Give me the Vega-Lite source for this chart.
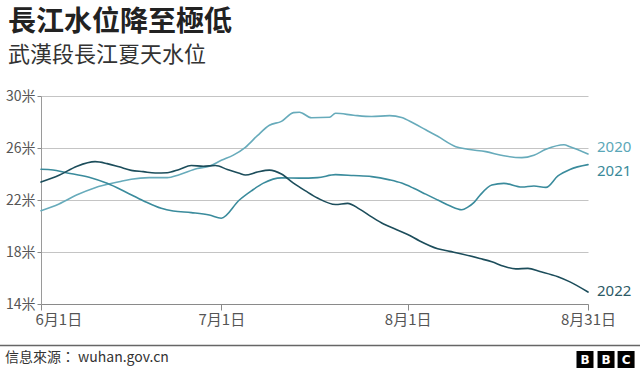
{
  "$schema": "https://vega.github.io/schema/vega-lite/v6.json",
  "width": 547,
  "height": 208,
  "autosize": {"type": "none"},
  "padding": {"left": 41, "top": 96, "right": 52, "bottom": 69},
  "background": "white",
  "config": {
    "view": {"stroke": null},
    "font": "Noto Sans CJK TC",
    "axis": {"labelFont": "Noto Sans CJK TC", "titleFont": "Noto Sans CJK TC"}
  },
  "title": {
    "text": "長江水位降至極低",
    "subtitle": "武漢段長江夏天水位",
    "anchor": "start",
    "frame": "group",
    "dx": -33,
    "offset": 23,
    "fontSize": 28,
    "fontWeight": "bold",
    "color": "#222222",
    "subtitleFontSize": 22,
    "subtitleColor": "#333333",
    "subtitlePadding": 8,
    "font": "Noto Sans CJK TC",
    "subtitleFont": "Noto Sans CJK TC"
  },
  "data": {
    "values": [
      {"year": "2020", "date": "2022-06-01T00:00", "level": 21.18},
      {"year": "2020", "date": "2022-06-04T00:00", "level": 21.7},
      {"year": "2020", "date": "2022-06-07T00:00", "level": 22.4},
      {"year": "2020", "date": "2022-06-10T00:00", "level": 22.95},
      {"year": "2020", "date": "2022-06-14T00:00", "level": 23.4},
      {"year": "2020", "date": "2022-06-16T00:00", "level": 23.6},
      {"year": "2020", "date": "2022-06-19T00:00", "level": 23.72},
      {"year": "2020", "date": "2022-06-22T00:00", "level": 23.72},
      {"year": "2020", "date": "2022-06-24T00:00", "level": 23.95},
      {"year": "2020", "date": "2022-06-27T00:00", "level": 24.42},
      {"year": "2020", "date": "2022-06-29T00:00", "level": 24.6},
      {"year": "2020", "date": "2022-07-01T00:00", "level": 25.05},
      {"year": "2020", "date": "2022-07-03T00:00", "level": 25.45},
      {"year": "2020", "date": "2022-07-05T00:00", "level": 26.05},
      {"year": "2020", "date": "2022-07-07T00:00", "level": 26.95},
      {"year": "2020", "date": "2022-07-09T00:00", "level": 27.75},
      {"year": "2020", "date": "2022-07-11T00:00", "level": 28.05},
      {"year": "2020", "date": "2022-07-13T00:00", "level": 28.72},
      {"year": "2020", "date": "2022-07-14T00:00", "level": 28.75},
      {"year": "2020", "date": "2022-07-16T00:00", "level": 28.33},
      {"year": "2020", "date": "2022-07-19T00:00", "level": 28.36},
      {"year": "2020", "date": "2022-07-20T00:00", "level": 28.67},
      {"year": "2020", "date": "2022-07-23T00:00", "level": 28.52},
      {"year": "2020", "date": "2022-07-26T00:00", "level": 28.42},
      {"year": "2020", "date": "2022-07-29T00:00", "level": 28.49},
      {"year": "2020", "date": "2022-07-31T00:00", "level": 28.35},
      {"year": "2020", "date": "2022-08-02T00:00", "level": 27.9},
      {"year": "2020", "date": "2022-08-04T00:00", "level": 27.4},
      {"year": "2020", "date": "2022-08-06T00:00", "level": 26.9},
      {"year": "2020", "date": "2022-08-09T00:00", "level": 26.1},
      {"year": "2020", "date": "2022-08-11T00:00", "level": 25.9},
      {"year": "2020", "date": "2022-08-14T00:00", "level": 25.72},
      {"year": "2020", "date": "2022-08-17T00:00", "level": 25.4},
      {"year": "2020", "date": "2022-08-20T00:00", "level": 25.26},
      {"year": "2020", "date": "2022-08-22T00:00", "level": 25.45},
      {"year": "2020", "date": "2022-08-24T00:00", "level": 25.9},
      {"year": "2020", "date": "2022-08-27T00:00", "level": 26.25},
      {"year": "2020", "date": "2022-08-28T00:00", "level": 26.1},
      {"year": "2020", "date": "2022-08-31T00:00", "level": 25.54},
      {"year": "2021", "date": "2022-06-01T00:00", "level": 24.36},
      {"year": "2021", "date": "2022-06-03T00:00", "level": 24.31},
      {"year": "2021", "date": "2022-06-05T00:00", "level": 24.12},
      {"year": "2021", "date": "2022-06-09T00:00", "level": 23.75},
      {"year": "2021", "date": "2022-06-12T00:00", "level": 23.28},
      {"year": "2021", "date": "2022-06-15T00:00", "level": 22.64},
      {"year": "2021", "date": "2022-06-18T00:00", "level": 21.95},
      {"year": "2021", "date": "2022-06-21T00:00", "level": 21.36},
      {"year": "2021", "date": "2022-06-23T00:00", "level": 21.15},
      {"year": "2021", "date": "2022-06-26T00:00", "level": 21.03},
      {"year": "2021", "date": "2022-06-29T00:00", "level": 20.85},
      {"year": "2021", "date": "2022-07-01T00:00", "level": 20.6},
      {"year": "2021", "date": "2022-07-04T00:00", "level": 22.0},
      {"year": "2021", "date": "2022-07-06T00:00", "level": 22.7},
      {"year": "2021", "date": "2022-07-08T00:00", "level": 23.3},
      {"year": "2021", "date": "2022-07-11T00:00", "level": 23.7},
      {"year": "2021", "date": "2022-07-14T00:00", "level": 23.68},
      {"year": "2021", "date": "2022-07-17T00:00", "level": 23.72},
      {"year": "2021", "date": "2022-07-20T00:00", "level": 23.95},
      {"year": "2021", "date": "2022-07-23T00:00", "level": 23.88},
      {"year": "2021", "date": "2022-07-26T00:00", "level": 23.8},
      {"year": "2021", "date": "2022-07-29T00:00", "level": 23.55},
      {"year": "2021", "date": "2022-07-31T00:00", "level": 23.3},
      {"year": "2021", "date": "2022-08-02T00:00", "level": 22.9},
      {"year": "2021", "date": "2022-08-04T00:00", "level": 22.45},
      {"year": "2021", "date": "2022-08-06T00:00", "level": 22.0},
      {"year": "2021", "date": "2022-08-08T00:00", "level": 21.55},
      {"year": "2021", "date": "2022-08-10T00:00", "level": 21.25},
      {"year": "2021", "date": "2022-08-11T00:00", "level": 21.45},
      {"year": "2021", "date": "2022-08-12T00:00", "level": 21.8},
      {"year": "2021", "date": "2022-08-13T00:00", "level": 22.35},
      {"year": "2021", "date": "2022-08-15T00:00", "level": 23.15},
      {"year": "2021", "date": "2022-08-17T00:00", "level": 23.28},
      {"year": "2021", "date": "2022-08-20T00:00", "level": 23.0},
      {"year": "2021", "date": "2022-08-22T00:00", "level": 23.08},
      {"year": "2021", "date": "2022-08-24T00:00", "level": 22.97},
      {"year": "2021", "date": "2022-08-26T00:00", "level": 23.85},
      {"year": "2021", "date": "2022-08-28T00:00", "level": 24.35},
      {"year": "2021", "date": "2022-08-31T00:00", "level": 24.72},
      {"year": "2022", "date": "2022-06-01T00:00", "level": 23.38},
      {"year": "2022", "date": "2022-06-04T00:00", "level": 23.9},
      {"year": "2022", "date": "2022-06-07T00:00", "level": 24.6},
      {"year": "2022", "date": "2022-06-10T00:00", "level": 24.95},
      {"year": "2022", "date": "2022-06-12T00:00", "level": 24.8},
      {"year": "2022", "date": "2022-06-14T00:00", "level": 24.55},
      {"year": "2022", "date": "2022-06-16T00:00", "level": 24.28},
      {"year": "2022", "date": "2022-06-18T00:00", "level": 24.18},
      {"year": "2022", "date": "2022-06-20T00:00", "level": 24.08},
      {"year": "2022", "date": "2022-06-22T00:00", "level": 24.1},
      {"year": "2022", "date": "2022-06-24T00:00", "level": 24.35},
      {"year": "2022", "date": "2022-06-26T00:00", "level": 24.65},
      {"year": "2022", "date": "2022-06-28T00:00", "level": 24.6},
      {"year": "2022", "date": "2022-06-30T00:00", "level": 24.65},
      {"year": "2022", "date": "2022-07-02T00:00", "level": 24.35},
      {"year": "2022", "date": "2022-07-04T00:00", "level": 24.05},
      {"year": "2022", "date": "2022-07-05T00:00", "level": 23.92},
      {"year": "2022", "date": "2022-07-07T00:00", "level": 24.15},
      {"year": "2022", "date": "2022-07-09T00:00", "level": 24.3},
      {"year": "2022", "date": "2022-07-11T00:00", "level": 24.0},
      {"year": "2022", "date": "2022-07-13T00:00", "level": 23.3},
      {"year": "2022", "date": "2022-07-15T00:00", "level": 22.7},
      {"year": "2022", "date": "2022-07-17T00:00", "level": 22.15},
      {"year": "2022", "date": "2022-07-20T00:00", "level": 21.65},
      {"year": "2022", "date": "2022-07-22T00:00", "level": 21.74},
      {"year": "2022", "date": "2022-07-24T00:00", "level": 21.3},
      {"year": "2022", "date": "2022-07-26T00:00", "level": 20.7},
      {"year": "2022", "date": "2022-07-28T00:00", "level": 20.15},
      {"year": "2022", "date": "2022-07-30T00:00", "level": 19.75},
      {"year": "2022", "date": "2022-08-01T00:00", "level": 19.35},
      {"year": "2022", "date": "2022-08-03T00:00", "level": 18.85},
      {"year": "2022", "date": "2022-08-06T00:00", "level": 18.25},
      {"year": "2022", "date": "2022-08-08T00:00", "level": 18.05},
      {"year": "2022", "date": "2022-08-10T00:00", "level": 17.85},
      {"year": "2022", "date": "2022-08-13T00:00", "level": 17.5},
      {"year": "2022", "date": "2022-08-15T00:00", "level": 17.25},
      {"year": "2022", "date": "2022-08-17T00:00", "level": 16.9},
      {"year": "2022", "date": "2022-08-19T00:00", "level": 16.7},
      {"year": "2022", "date": "2022-08-21T00:00", "level": 16.74},
      {"year": "2022", "date": "2022-08-23T00:00", "level": 16.5},
      {"year": "2022", "date": "2022-08-26T00:00", "level": 16.1},
      {"year": "2022", "date": "2022-08-28T00:00", "level": 15.7},
      {"year": "2022", "date": "2022-08-31T00:00", "level": 14.92}
    ]
  },
  "layer": [
    {
      "mark": {"type": "line", "interpolate": "monotone", "strokeCap": "round", "strokeJoin": "round"},
      "encoding": {
        "x": {
          "field": "date",
          "type": "temporal",
          "scale": {"domain": [{"year": 2022, "month": 6, "date": 1}, {"year": 2022, "month": 8, "date": 31}], "nice": false},
          "axis": {
            "title": null,
            "values": [
              {"year": 2022, "month": 6, "date": 1},
              {"year": 2022, "month": 7, "date": 1},
              {"year": 2022, "month": 8, "date": 1},
              {"year": 2022, "month": 8, "date": 31}
            ],
            "labelExpr": "(month(datum.value)+1)+'月'+date(datum.value)+'日'",
            "labelAlign": {"condition": {"test": "datum.index === 0", "value": "left"}, "value": "center"},
            "labelOffset": {"condition": {"test": "datum.index === 0", "value": -6}, "value": 0},
            "grid": false,
            "domainColor": "#8a8a8a",
            "domainWidth": 1.2,
            "tickColor": "#8a8a8a",
            "tickSize": 6,
            "labelPadding": 2,
            "labelFontSize": 15,
            "labelColor": "#555555"
          }
        },
        "y": {
          "field": "level",
          "type": "quantitative",
          "scale": {"domain": [14, 30], "nice": false, "zero": false},
          "axis": {
            "title": null,
            "values": [14, 16, 18, 20, 22, 24, 26, 28, 30],
            "labelExpr": "datum.value % 4 == 2 ? datum.value + '米' : ''",
            "grid": true,
            "gridColor": "#c4c4c4",
            "gridWidth": 1,
            "domainColor": "#9a9a9a",
            "tickColor": "#8a8a8a",
            "tickOpacity": {"condition": {"test": "datum.value % 4 != 2", "value": 0}, "value": 1},
            "tickSize": 4,
            "labelPadding": 2,
            "labelFontSize": 14,
            "labelColor": "#555555"
          }
        },
        "color": {
          "field": "year",
          "type": "nominal",
          "scale": {"domain": ["2020", "2021", "2022"], "range": ["#67abbb", "#3a8b9c", "#1c4d5b"]},
          "legend": null
        },
        "strokeWidth": {
          "field": "year",
          "type": "nominal",
          "scale": {"domain": ["2020", "2021", "2022"], "range": [1.6, 1.6, 2.6]},
          "legend": null
        }
      }
    },
    {
      "transform": [{"filter": "datum.year == '2020' && month(datum.date) == 7 && date(datum.date) == 31"}],
      "mark": {"type": "text", "align": "left", "baseline": "middle", "dx": 9, "dy": -7, "fontSize": 15, "font": "Noto Sans"},
      "encoding": {
        "x": {"field": "date", "type": "temporal"},
        "y": {"field": "level", "type": "quantitative"},
        "text": {"field": "year"},
        "color": {"value": "#5aa7b8"}
      }
    },
    {
      "transform": [{"filter": "datum.year == '2021' && month(datum.date) == 7 && date(datum.date) == 31"}],
      "mark": {"type": "text", "align": "left", "baseline": "middle", "dx": 9, "dy": 6, "fontSize": 15, "font": "Noto Sans"},
      "encoding": {
        "x": {"field": "date", "type": "temporal"},
        "y": {"field": "level", "type": "quantitative"},
        "text": {"field": "year"},
        "color": {"value": "#3a8a9a"}
      }
    },
    {
      "transform": [{"filter": "datum.year == '2022' && month(datum.date) == 7 && date(datum.date) == 31"}],
      "mark": {"type": "text", "align": "left", "baseline": "middle", "dx": 9, "dy": -1, "fontSize": 15, "font": "Noto Sans"},
      "encoding": {
        "x": {"field": "date", "type": "temporal"},
        "y": {"field": "level", "type": "quantitative"},
        "text": {"field": "year"},
        "color": {"value": "#2c5a66"}
      }
    },
    {
      "data": {"values": [{"note": "footer"}]},
      "mark": {"type": "rule", "color": "#666666", "strokeWidth": 1.5, "clip": false},
      "encoding": {
        "x": {"datum": {"year": 2022, "month": 5, "date": 25}, "type": "temporal"},
        "x2": {"datum": {"year": 2022, "month": 9, "date": 9}},
        "y": {"datum": 10.81, "type": "quantitative"}
      }
    },
    {
      "data": {"values": [{"source": "信息來源： wuhan.gov.cn"}]},
      "mark": {"type": "text", "align": "left", "baseline": "middle", "fontSize": 14, "color": "#333333", "font": "Noto Sans CJK TC"},
      "encoding": {
        "x": {"datum": {"year": 2022, "month": 5, "date": 26}, "type": "temporal"},
        "y": {"datum": 9.85, "type": "quantitative"},
        "text": {"field": "source"}
      }
    },
    {
      "data": {"values": [{"letter": "B"}]},
      "mark": {"type": "square", "size": 289, "filled": true, "color": "#000000", "opacity": 1},
      "encoding": {
        "x": {"datum": {"year": 2022, "month": 8, "date": 30, "hours": 12}, "type": "temporal"},
        "y": {"datum": 9.73, "type": "quantitative"}
      }
    },
    {
      "data": {"values": [{"letter": "B"}]},
      "mark": {"type": "square", "size": 289, "filled": true, "color": "#000000", "opacity": 1},
      "encoding": {
        "x": {"datum": {"year": 2022, "month": 9, "date": 3}, "type": "temporal"},
        "y": {"datum": 9.73, "type": "quantitative"}
      }
    },
    {
      "data": {"values": [{"letter": "C"}]},
      "mark": {"type": "square", "size": 289, "filled": true, "color": "#000000", "opacity": 1},
      "encoding": {
        "x": {"datum": {"year": 2022, "month": 9, "date": 6, "hours": 8}, "type": "temporal"},
        "y": {"datum": 9.73, "type": "quantitative"}
      }
    },
    {
      "data": {"values": [{"letter": "B"}]},
      "mark": {"type": "text", "align": "center", "baseline": "middle", "fontSize": 12, "fontWeight": "bold", "color": "#ffffff", "font": "DejaVu Sans"},
      "encoding": {
        "x": {"datum": {"year": 2022, "month": 8, "date": 30, "hours": 12}, "type": "temporal"},
        "y": {"datum": 9.73, "type": "quantitative"},
        "text": {"field": "letter"}
      }
    },
    {
      "data": {"values": [{"letter": "B"}]},
      "mark": {"type": "text", "align": "center", "baseline": "middle", "fontSize": 12, "fontWeight": "bold", "color": "#ffffff", "font": "DejaVu Sans"},
      "encoding": {
        "x": {"datum": {"year": 2022, "month": 9, "date": 3}, "type": "temporal"},
        "y": {"datum": 9.73, "type": "quantitative"},
        "text": {"field": "letter"}
      }
    },
    {
      "data": {"values": [{"letter": "C"}]},
      "mark": {"type": "text", "align": "center", "baseline": "middle", "fontSize": 12, "fontWeight": "bold", "color": "#ffffff", "font": "DejaVu Sans"},
      "encoding": {
        "x": {"datum": {"year": 2022, "month": 9, "date": 6, "hours": 8}, "type": "temporal"},
        "y": {"datum": 9.73, "type": "quantitative"},
        "text": {"field": "letter"}
      }
    }
  ]
}
